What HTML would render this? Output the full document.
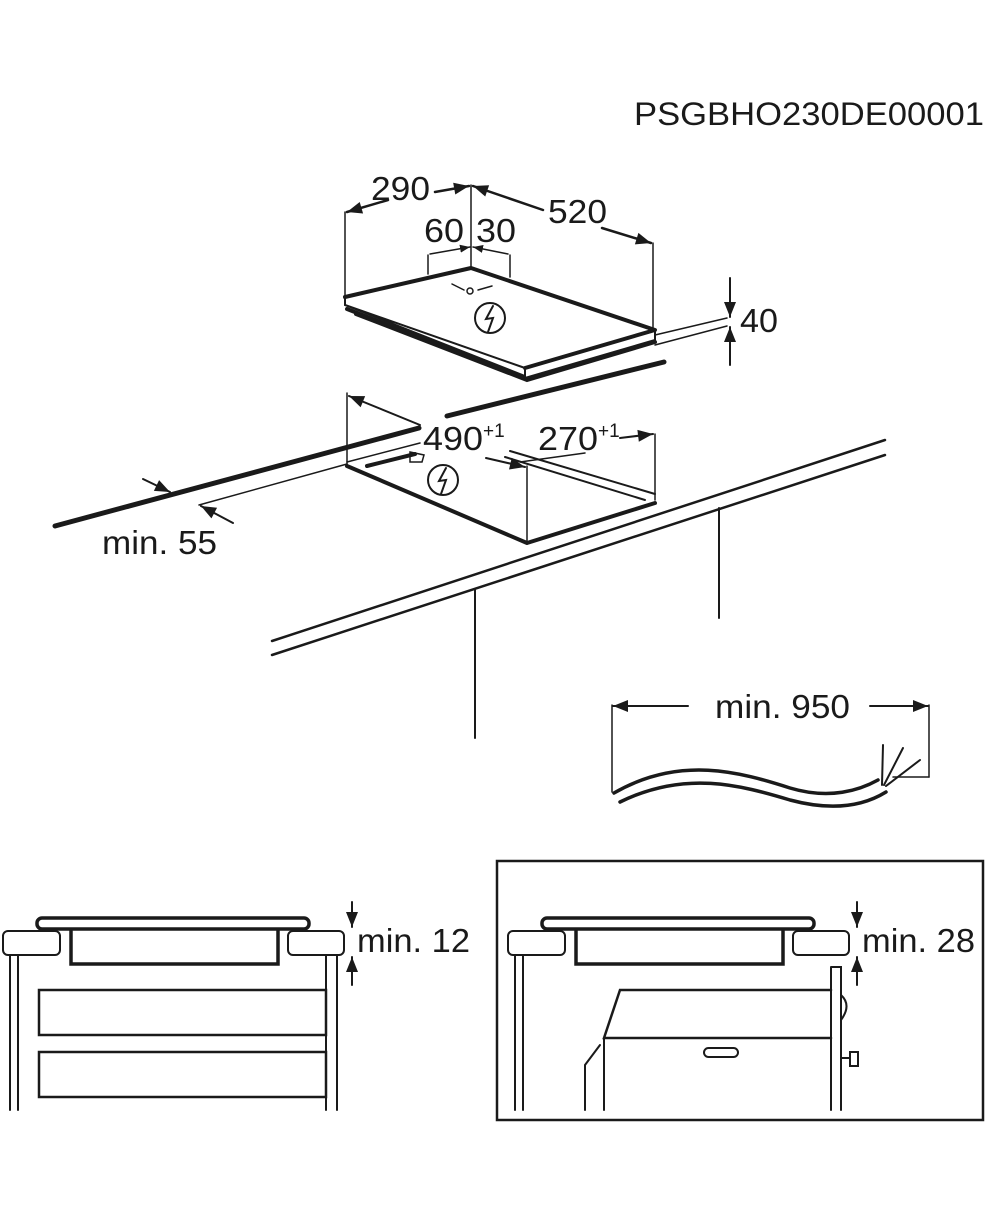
<!DOCTYPE html>
<html><head><meta charset="utf-8"><style>
html,body{margin:0;padding:0;background:#fff;}
svg{display:block}
text{font-family:"Liberation Sans",sans-serif;fill:#1a1a1a}
</style></head><body>
<svg width="989" height="1221" viewBox="0 0 989 1221" xmlns="http://www.w3.org/2000/svg">
<defs>
<marker id="a" viewBox="0 0 10 10" refX="10" refY="5" markerWidth="10" markerHeight="10" markerUnits="userSpaceOnUse" orient="auto"><path d="M0,1 L10,5 L0,9 z" fill="#1a1a1a"/></marker>
<marker id="b" viewBox="0 0 10 10" refX="10" refY="5" markerWidth="20" markerHeight="15" markerUnits="userSpaceOnUse" orient="auto"><path d="M0,1 L10,5 L0,9 z" fill="#1a1a1a"/></marker>
</defs>
<g stroke="#1a1a1a" fill="none" stroke-linecap="round">
<text x="634" y="125" font-size="32" stroke="none" textLength="350" lengthAdjust="spacingAndGlyphs">PSGBHO230DE00001</text>

<!-- Top hob -->
<line x1="345" y1="212" x2="345" y2="297" stroke-width="1.5"/>
<line x1="471" y1="185" x2="471" y2="268" stroke-width="1.5"/>
<line x1="653" y1="243" x2="653" y2="330" stroke-width="1.5"/>
<line x1="428" y1="255" x2="428" y2="274" stroke-width="1.5"/>
<line x1="510" y1="255" x2="510" y2="277" stroke-width="1.5"/>
<line x1="388" y1="200" x2="347" y2="212" stroke-width="2.5" marker-end="url(#b)"/>
<line x1="435" y1="192" x2="469" y2="186" stroke-width="2.5" marker-end="url(#b)"/>
<line x1="543" y1="210" x2="473" y2="186" stroke-width="2.5" marker-end="url(#b)"/>
<line x1="602" y1="228" x2="651" y2="243" stroke-width="2.5" marker-end="url(#b)"/>
<line x1="430" y1="254" x2="470" y2="247" stroke-width="1.5" marker-end="url(#a)"/>
<line x1="508" y1="254" x2="473" y2="247" stroke-width="1.5" marker-end="url(#a)"/>
<text x="371" y="200" font-size="33" stroke="none" textLength="59" lengthAdjust="spacingAndGlyphs">290</text>
<text x="548" y="223" font-size="33" stroke="none" textLength="59" lengthAdjust="spacingAndGlyphs">520</text>
<text x="424" y="242" font-size="33" stroke="none" textLength="40" lengthAdjust="spacingAndGlyphs">60</text>
<text x="476" y="242" font-size="33" stroke="none" textLength="40" lengthAdjust="spacingAndGlyphs">30</text>
<path d="M345,297 L471,268 L655,330 L525,368" stroke-width="4" stroke-linejoin="round"/>
<path d="M345,297 L345,305 L525,368 L525,376 M345,305 L525,376" stroke-width="2"/>
<path d="M347,309 L525,378 M356,314 L527,380 L655,342" stroke-width="4"/>
<path d="M525,368 L655,330 L655,340 L525,378 z" stroke-width="2"/>
<line x1="452" y1="284" x2="464" y2="290" stroke-width="1.5"/>
<line x1="478" y1="290" x2="492" y2="286" stroke-width="1.5"/>
<circle cx="470" cy="291" r="3" stroke-width="1.5"/>
<circle cx="490" cy="318" r="15" stroke-width="2"/>
<path d="M493,306 L486,319 L493,318 L488,332" stroke-width="2"/>
<!-- 40 -->
<line x1="655" y1="345" x2="727" y2="326" stroke-width="1.5"/>
<line x1="655" y1="335" x2="727" y2="318" stroke-width="1.5"/>
<line x1="730" y1="278" x2="730" y2="317" stroke-width="2" marker-end="url(#b)"/>
<line x1="730" y1="365" x2="730" y2="327" stroke-width="2" marker-end="url(#b)"/>
<text x="740" y="332" font-size="33" stroke="none" textLength="38" lengthAdjust="spacingAndGlyphs">40</text>

<!-- worktop lines -->
<line x1="55" y1="526" x2="419" y2="428" stroke-width="5"/>
<line x1="447" y1="416" x2="664" y2="362" stroke-width="5"/>
<line x1="347" y1="462" x2="420" y2="443" stroke-width="1.5"/>
<line x1="199" y1="505" x2="347" y2="464" stroke-width="1.5"/>
<line x1="143" y1="479" x2="170" y2="492" stroke-width="2" marker-end="url(#b)"/>
<line x1="233" y1="523" x2="201" y2="506" stroke-width="2" marker-end="url(#b)"/>
<text x="102" y="554" font-size="33" stroke="none" textLength="115" lengthAdjust="spacingAndGlyphs">min. 55</text>
<!-- cutout -->
<line x1="347" y1="393" x2="347" y2="466" stroke-width="1.5"/>
<line x1="420" y1="425" x2="349" y2="396" stroke-width="2" marker-end="url(#b)"/>
<line x1="527" y1="466" x2="527" y2="541" stroke-width="1.5"/>
<line x1="655" y1="434" x2="655" y2="500" stroke-width="1.5"/>
<line x1="620" y1="438" x2="653" y2="434" stroke-width="2" marker-end="url(#b)"/>
<line x1="486" y1="458" x2="525" y2="467" stroke-width="2" marker-end="url(#b)"/>
<path d="M347,466 L527,543 L655,503" stroke-width="4" stroke-linejoin="round"/>
<path d="M367,466 L415,454" stroke-width="4"/>
<path d="M410,452 L424,455 L422,462 L410,462 z" stroke-width="1.5"/>
<path d="M505,457 L645,500 M510,451 L655,494" stroke-width="2"/>
<path d="M520,462 L585,453" stroke-width="1.5"/>
<circle cx="443" cy="480" r="15" stroke-width="2"/>
<path d="M446,468 L439,481 L446,480 L441,494" stroke-width="2"/>
<text x="423" y="450" font-size="33" stroke="none"><tspan textLength="60" lengthAdjust="spacingAndGlyphs">490</tspan><tspan font-size="19" dy="-13">+1</tspan></text>
<text x="538" y="450" font-size="33" stroke="none"><tspan textLength="60" lengthAdjust="spacingAndGlyphs">270</tspan><tspan font-size="19" dy="-13">+1</tspan></text>
<!-- worktop front -->
<line x1="272" y1="641" x2="885" y2="440" stroke-width="2.5"/>
<line x1="272" y1="655" x2="885" y2="455" stroke-width="2.5"/>
<line x1="475" y1="590" x2="475" y2="738" stroke-width="2"/>
<line x1="719" y1="508" x2="719" y2="618" stroke-width="2"/>

<!-- cable -->
<line x1="612" y1="705" x2="612" y2="792" stroke-width="1.5"/>
<line x1="929" y1="705" x2="929" y2="777" stroke-width="1.5"/>
<line x1="688" y1="706" x2="613" y2="706" stroke-width="2" marker-end="url(#b)"/>
<line x1="870" y1="706" x2="928" y2="706" stroke-width="2" marker-end="url(#b)"/>
<line x1="893" y1="777" x2="929" y2="777" stroke-width="1.5"/>
<text x="715" y="718" font-size="33" stroke="none" textLength="135" lengthAdjust="spacingAndGlyphs">min. 950</text>
<path d="M614,793 C680,755 740,772 790,788 C830,800 860,790 878,780" stroke-width="3.5"/>
<path d="M620,802 C685,770 740,785 790,800 C835,812 865,805 886,792" stroke-width="3.5"/>
<path d="M882,785 L883,745 M884,785 L903,748 M886,786 L920,760" stroke-width="2"/>

<!-- bottom left -->
<rect x="37" y="918" width="272" height="11" rx="5" stroke-width="3.5"/>
<rect x="3" y="931" width="57" height="24" rx="5" stroke-width="2"/>
<rect x="288" y="931" width="56" height="24" rx="5" stroke-width="2"/>
<path d="M71,931 L71,964 L278,964 L278,931" stroke-width="3.5"/>
<path d="M10,955 L10,1110 M18,955 L18,1110 M326,955 L326,1110 M337,955 L337,1110" stroke-width="2"/>
<rect x="39" y="990" width="287" height="45" stroke-width="2.5"/>
<rect x="39" y="1052" width="287" height="45" stroke-width="2.5"/>
<line x1="352" y1="902" x2="352" y2="927" stroke-width="2" marker-end="url(#b)"/>
<line x1="352" y1="985" x2="352" y2="957" stroke-width="2" marker-end="url(#b)"/>
<text x="357" y="952" font-size="33" stroke="none" textLength="113" lengthAdjust="spacingAndGlyphs">min. 12</text>

<!-- bottom right -->
<rect x="497" y="861" width="486" height="259" stroke-width="2.5"/>
<g transform="translate(505,0)">
<rect x="37" y="918" width="272" height="11" rx="5" stroke-width="3.5"/>
<rect x="3" y="931" width="57" height="24" rx="5" stroke-width="2"/>
<rect x="288" y="931" width="56" height="24" rx="5" stroke-width="2"/>
<path d="M71,931 L71,964 L278,964 L278,931" stroke-width="3.5"/>
<path d="M10,955 L10,1110 M18,955 L18,1110" stroke-width="2"/>
</g>
<path d="M831,967 L841,967 L841,1110 M831,967 L831,1110" stroke-width="2"/>
<path d="M831,990 L620,990 L604,1038 L831,1038" stroke-width="2.5"/>
<path d="M604,1038 L604,1110 M600,1045 L585,1065 L585,1110" stroke-width="2"/>
<rect x="704" y="1048" width="34" height="9" rx="4.5" stroke-width="2"/>
<path d="M841,995 Q852,1005 841,1020" stroke-width="2"/>
<path d="M841,1058 L850,1058 M850,1052 L858,1052 L858,1066 L850,1066 z" stroke-width="2"/>
<line x1="857" y1="902" x2="857" y2="927" stroke-width="2" marker-end="url(#b)"/>
<line x1="857" y1="985" x2="857" y2="957" stroke-width="2" marker-end="url(#b)"/>
<text x="862" y="952" font-size="33" stroke="none" textLength="113" lengthAdjust="spacingAndGlyphs">min. 28</text>
</g>
</svg>
</body></html>
